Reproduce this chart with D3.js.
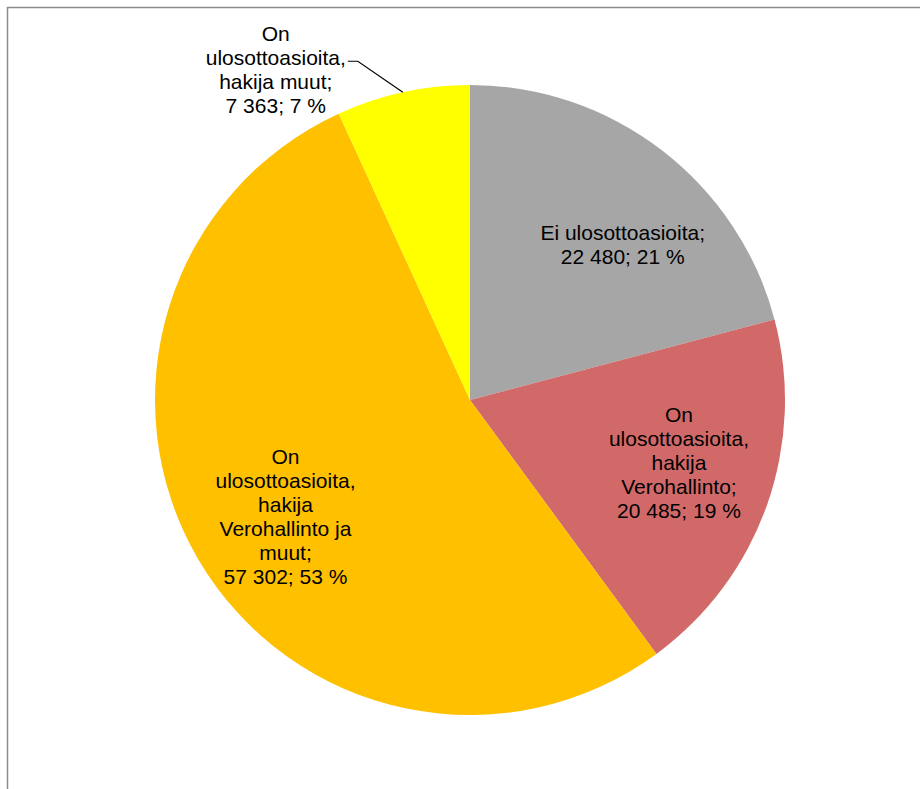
<!DOCTYPE html>
<html>
<head>
<meta charset="utf-8">
<script src="https://cdn.jsdelivr.net/npm/d3@7"></script>
<style>
  body { margin: 0; background: #fff; }
  svg { display: block; }
</style>
</head>
<body>
<div id="chart"></div>
<script>
// slice data, clockwise from 12 o'clock
const categories = [
    "Ei ulosottoasioita",
    "On ulosottoasioita, hakija Verohallinto",
    "On ulosottoasioita, hakija Verohallinto ja muut",
    "On ulosottoasioita, hakija muut"
];
const values = [22480, 20485, 57302, 7363];
const percents = ["21 %", "19 %", "53 %", "7 %"];
const valueLabels = ["22 480", "20 485", "57 302", "7 363"];
// how the label text wraps, as in the original
const labelLines = [
    ["Ei ulosottoasioita;", "22 480; 21 %"],
    ["On", "ulosottoasioita,", "hakija", "Verohallinto;", "20 485; 19 %"],
    ["On", "ulosottoasioita,", "hakija", "Verohallinto ja", "muut;", "57 302; 53 %"],
    ["On", "ulosottoasioita,", "hakija muut;", "7 363; 7 %"]
];
const colors = ["#A6A6A6", "#D16969", "#FFC000", "#FFFF00"];

const width = 920,
    height = 789,
    cx = 470,
    cy = 400,
    radius = 315,
    fontSize = 21,
    lineHeight = 24;

const svg = d3.select("#chart").append("svg")
    .attr("width", width)
    .attr("height", height);

// chart area frame (right and bottom edges fall outside the picture)
svg.append("rect")
    .attr("x", 7.5)
    .attr("y", 7.5)
    .attr("width", 930)
    .attr("height", 800)
    .attr("fill", "none")
    .attr("stroke", "#8C8C8C")
    .attr("stroke-width", 1.5);

const pie = d3.pie().sort(null).value(d => d);
const arcs = pie(values);

const arc = d3.arc().innerRadius(0).outerRadius(radius);

const g = svg.append("g").attr("transform", `translate(${cx},${cy})`);

g.selectAll("path.slice")
    .data(arcs)
    .enter()
    .append("path")
    .attr("class", "slice")
    .attr("d", arc)
    .attr("fill", (d, i) => colors[i]);

// labels inside the pie: place around a label arc, small tweak for the grey one
const labelArc = d3.arc().innerRadius(218).outerRadius(218);
const angleNudge = [0.12, -0.05, -0.03, 0];

const drawLabel = (lines, x, y, anchor) => {
    const t = g.append("text")
        .attr("font-family", "'Liberation Sans', Arial, sans-serif")
        .attr("font-size", fontSize)
        .attr("fill", "#000")
        .attr("text-anchor", anchor || "middle");
    const top = y - (lines.length - 1) * lineHeight / 2;
    lines.forEach((line, k) => {
        t.append("tspan")
            .attr("x", x)
            .attr("y", top + k * lineHeight + 7.5)
            .text(line);
    });
    return t;
};

arcs.forEach((d, i) => {
    if (i === 3) return; // small slice gets an outside label
    const mid = (d.startAngle + d.endAngle) / 2 + angleNudge[i];
    const [x, y] = labelArc.centroid({ startAngle: mid, endAngle: mid });
    drawLabel(labelLines[i], x, y);
});

// outside label with leader line for the small yellow slice
const small = arcs[3];
const midSmall = (small.startAngle + small.endAngle) / 2;
const edge = d3.arc().innerRadius(radius).outerRadius(radius)
    .centroid({ startAngle: midSmall, endAngle: midSmall });
const elbow = [edge[0] - 45, edge[1] - 31];
const lineEnd = [elbow[0] - 10, elbow[1]];

g.append("polyline")
    .attr("points", [edge, elbow, lineEnd].map(p => p.join(",")).join(" "))
    .attr("fill", "none")
    .attr("stroke", "#000")
    .attr("stroke-width", 1.2);

const outside = drawLabel(labelLines[3], 0, 0);
// measure widest line so the text block ends where the leader line starts
let maxW = 0;
outside.selectAll("tspan").each(function () {
    maxW = Math.max(maxW, this.getComputedTextLength());
});
const lx = lineEnd[0] - 2 - maxW / 2;
const ly = lineEnd[1] + 8;
outside.remove();
drawLabel(labelLines[3], lx, ly);
</script>
</body>
</html>
